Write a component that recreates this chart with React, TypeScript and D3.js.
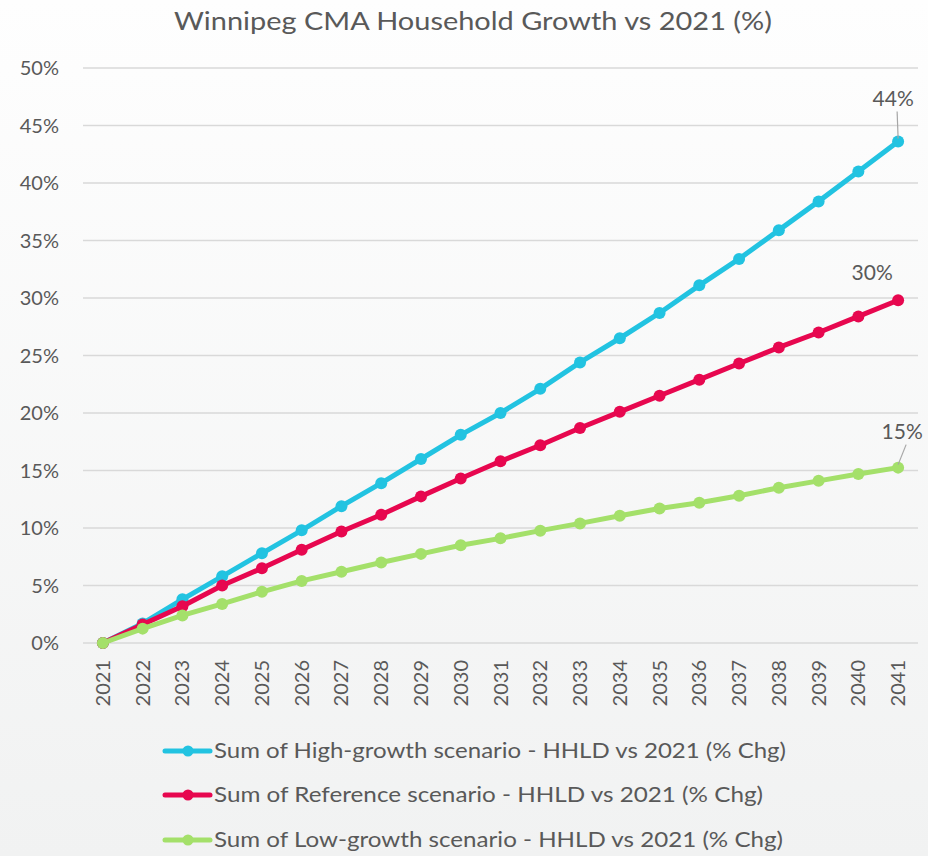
import React from "react";
import * as d3 from "d3";

const years = ["2021","2022","2023","2024","2025","2026","2027","2028","2029","2030","2031","2032","2033","2034","2035","2036","2037","2038","2039","2040","2041"];
const highGrowth = [0, 1.7, 3.8, 5.8, 7.8, 9.8, 11.9, 13.9, 16.0, 18.1, 20.0, 22.1, 24.4, 26.5, 28.7, 31.1, 33.4, 35.9, 38.4, 41.0, 43.6];
const reference = [0, 1.6, 3.2, 5.0, 6.5, 8.1, 9.7, 11.15, 12.75, 14.3, 15.8, 17.2, 18.7, 20.1, 21.5, 22.9, 24.3, 25.7, 27.0, 28.4, 29.8];
const lowGrowth = [0, 1.25, 2.4, 3.4, 4.45, 5.4, 6.2, 7.0, 7.75, 8.5, 9.1, 9.77, 10.4, 11.07, 11.7, 12.2, 12.8, 13.5, 14.1, 14.7, 15.25];
const yTicks = [0, 5, 10, 15, 20, 25, 30, 35, 40, 45, 50];
const seriesNames = [
  "Sum of High-growth scenario - HHLD vs 2021 (% Chg)",
  "Sum of Reference scenario - HHLD vs 2021 (% Chg)",
  "Sum of Low-growth scenario - HHLD vs 2021 (% Chg)",
];
const endLabels = ["44%", "30%", "15%"];
const title = "Winnipeg CMA Household Growth vs 2021 (%)";

const W = 928, H = 856;
const colors = ["#22c3e1", "#e7074f", "#a4e06a"];
const textColor = "#595959";
const font = "Lato, 'Open Sans', sans-serif";

export default function App() {
  const x = d3.scalePoint<string>().domain(years).range([83, 918]).padding(0.5);
  const y = d3.scaleLinear().domain([0, 50]).range([643, 68]);
  const series = [highGrowth, reference, lowGrowth];
  const line = d3.line<number>().x((_, i) => x(years[i])!).y((d) => y(d));

  const legendY = [751, 795, 840];
  const legendLen = [572, 549, 569];
  const lastX = x(years[years.length - 1])!;
  // label placements relative to last point
  const labelOff = [
    { dx: -5, dy: -36, leader: true },
    { dx: -26, dy: -20, leader: false },
    { dx: 4, dy: -29, leader: true },
  ];

  return (
    <svg width={W} height={H} style={{ position: "absolute", left: 0, top: 0 }} fontFamily={font}>
      <defs>
        <linearGradient id="bg" x1="0" y1="0" x2="0" y2="1">
          <stop offset="0" stopColor="#fefefe" />
          <stop offset="1" stopColor="#f1f2f2" />
        </linearGradient>
      </defs>
      <rect width={W} height={H} fill="url(#bg)" />
      <text x={473} y={30} textAnchor="middle" fontSize={25} fill={textColor} textLength={598} lengthAdjust="spacingAndGlyphs">{title}</text>

      {yTicks.map((t) => (
        <g key={t}>
          <line x1={83} x2={918} y1={y(t)} y2={y(t)} stroke="#d9d9d9" strokeWidth={1.6} />
          <text x={59} y={y(t)} dy="0.35em" textAnchor="end" fontSize={20} fill={textColor}>{t}%</text>
        </g>
      ))}

      {years.map((yr) => (
        <text key={yr} transform={`translate(${x(yr)},660) rotate(-90)`} textAnchor="end" dy="0.35em" fontSize={20} fill={textColor}>{yr}</text>
      ))}

      {series.map((s, k) => (
        <g key={k}>
          <path d={line(s)!} fill="none" stroke={colors[k]} strokeWidth={5} strokeLinejoin="round" strokeLinecap="round" />
          {s.map((v, i) => (
            <circle key={i} cx={x(years[i])!} cy={y(v)} r={6} fill={colors[k]} />
          ))}
        </g>
      ))}
      {/* re-draw first point in low-growth color, as on top */}

      {series.map((s, k) => {
        const v = s[s.length - 1];
        const px = lastX, py = y(v);
        const o = labelOff[k];
        return (
          <g key={"l" + k}>
            {o.leader && (
              <line x1={px + o.dx + 4} y1={py + o.dy + 6} x2={px} y2={py - 3} stroke="#a6a6a6" strokeWidth={1.2} />
            )}
            <text x={px + o.dx} y={py + o.dy} textAnchor="middle" fontSize={21} fill={textColor}>{endLabels[k]}</text>
          </g>
        );
      })}

      {seriesNames.map((n, k) => (
        <g key={"lg" + k}>
          <line x1={165} x2={210} y1={legendY[k]} y2={legendY[k]} stroke={colors[k]} strokeWidth={5} strokeLinecap="round" />
          <circle cx={188} cy={legendY[k]} r={5.5} fill={colors[k]} />
          <text x={214} y={legendY[k]} dy="0.35em" fontSize={21} fill={textColor} textLength={legendLen[k]} lengthAdjust="spacingAndGlyphs">{n}</text>
        </g>
      ))}
    </svg>
  );
}
